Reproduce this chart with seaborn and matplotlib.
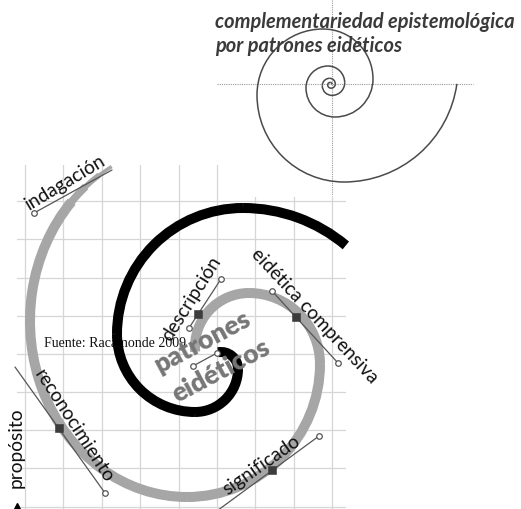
import matplotlib
matplotlib.use("Agg")
import matplotlib.pyplot as plt
from matplotlib.patches import Arc
import seaborn as sns

# grid of the lower drawing (pixel coords, y grows downward)
grid_x = [25, 63, 102, 140, 179, 217, 255, 294, 332]
grid_x_top = [165, 165, 165, 165, 165, 165, 197, 197, 197]
grid_y = [201, 239, 278, 316, 354, 392, 430, 468, 507]

# small spiral at the top: quarter-turn radii, outer -> inner
top_radii = [114, 87, 66, 50, 38, 29, 22, 16.7, 12.7, 9.7, 7.4, 5.6, 4.3, 3.3, 2.5, 1.9]
top_centre = (344, 68)
top_axis_y = 84
top_axis_x = 332

# thick spirals, one arc each: centre, width, height, angles
black_cx = [243, 243, 195, 195, 221]
black_cy = [368, 334, 334, 369, 369]
black_r = [160, 126, 78, 43, 17]
black_t1 = [270, 180, 90, 0, 260]
black_t2 = [310, 270, 180, 90, 360]

gray_cx = [187, 187, 249, 249]
gray_cy = [321, 364, 364, 347]
gray_w = [314, 266, 142, 108]
gray_h = [352, 266, 142, 108]
gray_t1 = [90, 0, 270, 175]
gray_t2 = [226, 90, 360, 270]
# thinning tail of the gray spiral at its top end
tail_t1 = [225, 232, 238]
tail_t2 = [233, 239, 244]
tail_lw = [5.5, 4.0, 2.5]

# handles (tangent lines) of the curve
handle_x0 = [34, 15, 319, 189, 272, 193]
handle_y0 = [213, 367, 436, 328, 291, 366]
handle_x1 = [112, 105, 210, 221, 338, 217]
handle_y1 = [170, 493, 516, 279, 363, 353]
circle_x = [34, 105, 319, 189, 221, 272, 338, 193, 217]
circle_y = [213, 493, 436, 328, 279, 291, 363, 366, 353]
square_x = [59, 272, 198, 296]
square_y = [428, 470, 314, 317]

labels = ["indagación", "reconocimiento", "significado", "descripción",
          "eidética comprensiva", "propósito"]
label_x = [65, 74, 261, 191, 315, 16]
label_y = [182, 426, 465, 299, 316, 448]
label_rot = [31, -57, 35, 58, -47, 90]

centre_words = ["patrones", "eidéticos"]
centre_x = [203, 221]
centre_y = [342, 371]

title_lines = ["complementariedad epistemológica", "por patrones eidéticos"]
source = "Fuente: Racamonde 2009"

sns.set_theme(style="white")
plt.rcParams["font.family"] = ["Lato", "DejaVu Sans"]

fig = plt.figure(figsize=(5.21, 5.09), dpi=100)
ax = fig.add_axes([0, 0, 1, 1])
ax.set_xlim(0, 521)
ax.set_ylim(509, 0)
ax.axis("off")

# grid
for x, y0 in zip(grid_x, grid_x_top):
    ax.plot([x, x], [y0, 509], color="#d6d6d6", lw=0.9, zorder=1)
for y in grid_y:
    ax.plot([17, 345], [y, y], color="#d6d6d6", lw=0.9, zorder=1)

# top spiral with dotted axes
ax.plot([217, 473], [top_axis_y, top_axis_y], color="#9a9a9a", lw=0.8, ls=(0, (1, 1)), zorder=1)
ax.plot([top_axis_x, top_axis_x], [0, 196], color="#9a9a9a", lw=0.8, ls=(0, (1, 1)), zorder=1)
cx, cy = top_centre
dirs = [(1, 0), (0, 1), (-1, 0), (0, -1)]
for k, r in enumerate(top_radii):
    if k > 0:
        dx, dy = dirs[k % 4]
        step = top_radii[k - 1] - r
        cx, cy = cx + step * dx, cy + step * dy
    t1 = 8 if k == 0 else 90 * k
    ax.add_patch(Arc((cx, cy), 2 * r, 2 * r, theta1=t1, theta2=90 * (k + 1),
                     color="#4a4a4a", lw=1.1, zorder=2))

for i in range(len(gray_w)):
    ax.add_patch(Arc((gray_cx[i], gray_cy[i]), gray_w[i], gray_h[i],
                     theta1=gray_t1[i], theta2=gray_t2[i],
                     color="#a6a6a6", lw=7.2, zorder=2))
for t1, t2, lw in zip(tail_t1, tail_t2, tail_lw):
    ax.add_patch(Arc((gray_cx[0], gray_cy[0]), gray_w[0], gray_h[0],
                     theta1=t1, theta2=t2, color="#a6a6a6", lw=lw, zorder=2))

ax.text(44, 347, source, family=["Liberation Serif"], fontsize=10,
        color="#111111", va="baseline", ha="left", zorder=2.5)

for i in range(len(black_r)):
    ax.add_patch(Arc((black_cx[i], black_cy[i]), 2 * black_r[i], 2 * black_r[i],
                     theta1=black_t1[i], theta2=black_t2[i],
                     color="black", lw=7.2, zorder=3))

for i in range(len(handle_x0)):
    sns.lineplot(x=[handle_x0[i], handle_x1[i]], y=[handle_y0[i], handle_y1[i]],
                 sort=False, color="#555555", lw=0.9, ax=ax, zorder=4)
sns.scatterplot(x=square_x, y=square_y, marker="s", s=28, color="#3c3c3c",
                edgecolor="#3c3c3c", ax=ax, zorder=5)
sns.scatterplot(x=circle_x, y=circle_y, marker="o", s=16, color="white",
                edgecolor="#555555", linewidth=0.9, ax=ax, zorder=5)

for t, x, y, r in zip(labels, label_x, label_y, label_rot):
    ax.text(x, y, t, rotation=r, rotation_mode="anchor", ha="center", va="center",
            fontsize=13.8, color="#111111", zorder=6)

for t, x, y in zip(centre_words, centre_x, centre_y):
    ax.text(x, y, t, rotation=28, rotation_mode="anchor", ha="center", va="center",
            fontsize=19, fontweight="heavy", color="#767676", zorder=6)

ax.text(215, 28, title_lines[0], fontsize=14.4, fontweight="bold", fontstyle="italic",
        color="#3a3a3a", va="baseline", ha="left", zorder=6)
ax.text(215, 52, title_lines[1], fontsize=14.4, fontweight="bold", fontstyle="italic",
        color="#3a3a3a", va="baseline", ha="left", zorder=6)

ax.plot([17], [507], marker="^", color="black", ms=6, zorder=6)

fig.savefig("out.png", dpi=100)
